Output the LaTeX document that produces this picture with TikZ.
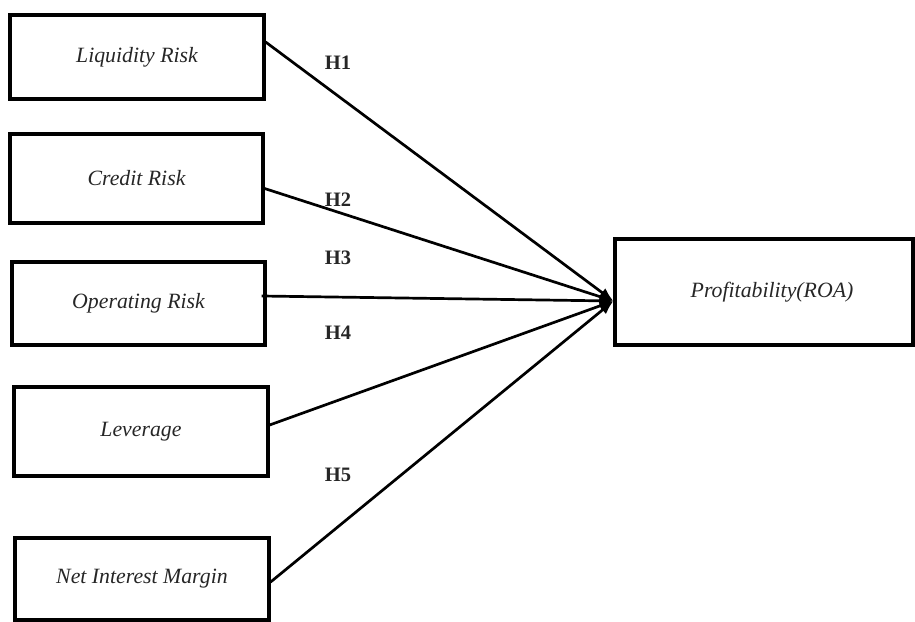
\documentclass[tikz,border=0pt]{standalone}
\usepackage{fontspec}
\setmainfont{Liberation Serif}
\usetikzlibrary{arrows.meta}
\begin{document}
\begin{tikzpicture}[x=1pt,y=-1pt,
  box/.style={draw,line width=3.2pt,rectangle,inner sep=0pt,font=\fontsize{21.8}{26}\selectfont\itshape,text=black!85},
  arr/.style={line width=2.7pt,-{Latex[length=14pt,width=11pt]}},
  hlab/.style={font=\fontsize{20.5}{24}\selectfont\bfseries,text=black!85}]
\useasboundingbox (0,0) rectangle (915,621);
\node[box,minimum width=254pt,minimum height=84pt] (liq) at (137,57) {Liquidity Risk};
\node[box,minimum width=253pt,minimum height=89pt] (cred) at (136.5,178.5) {Credit Risk};
\node[box,minimum width=253pt,minimum height=83pt] (oper) at (138.5,303.5) {Operating Risk};
\node[box,minimum width=254pt,minimum height=89pt] (lev) at (141,431.5) {Leverage};
\node[box,minimum width=254pt,minimum height=82pt] (nim) at (142,579) {Net Interest Margin};
\node[box,minimum width=298pt,minimum height=106pt] (prof) at (764,292) {\hspace*{16pt}Profitability(ROA)};
\coordinate (tip) at ([yshift=-9pt]prof.west);
\draw[arr] ([yshift=15pt]liq.east) -- (tip);
\draw[arr] ([yshift=-10pt]cred.east) -- (tip);
\draw[arr] ([xshift=-5pt,yshift=7.5pt]oper.east) -- (tip);
\draw[arr] ([yshift=6.5pt]lev.east) -- (tip);
\draw[arr] ([yshift=-3pt]nim.east) -- (tip);
\node[hlab] (h1) at (338,63) {H1};
\node[hlab] (h2) at (338,200) {H2};
\node[hlab] (h3) at (338,258) {H3};
\node[hlab] (h4) at (338,333) {H4};
\node[hlab] (h5) at (338,475) {H5};
\end{tikzpicture}
\end{document}
